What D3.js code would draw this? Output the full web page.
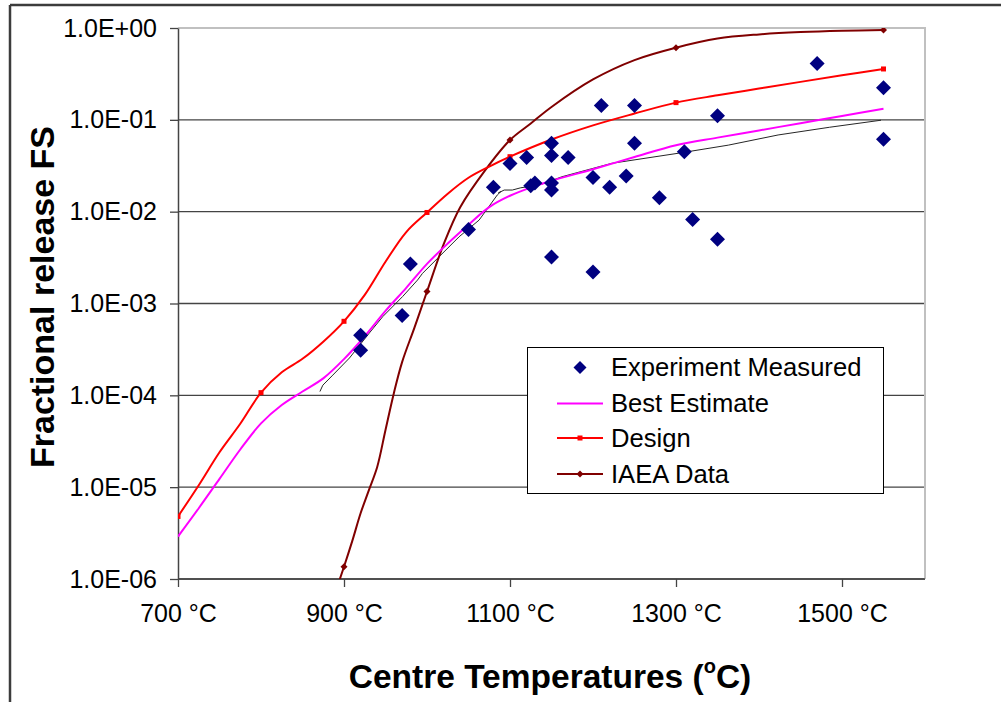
<!DOCTYPE html>
<html>
<head>
<meta charset="utf-8">
<script src="https://cdn.jsdelivr.net/npm/d3@7"></script>
<style>
  html, body { margin: 0; padding: 0; background: #fff; }
  svg { display: block; font-family: "Liberation Sans", Arial, sans-serif; }
</style>
</head>
<body>
<svg id="chart" width="1001" height="702"></svg>
<script>
// ---- Data -------------------------------------------------------------
// Measured fractional release (temperature °C, fraction)
const measuredT = [920, 920, 970, 980, 1050, 1080, 1100, 1120, 1125, 1130,
                   1150, 1150, 1150, 1150, 1150, 1170, 1200, 1200, 1210, 1220,
                   1240, 1250, 1250, 1280, 1310, 1320, 1350, 1350, 1470, 1550, 1550];
const measuredV = [4.5e-4, 3.1e-4, 7.4e-4, 2.7e-3, 6.4e-3, 1.84e-2, 3.35e-2, 3.9e-2, 1.92e-2, 2.05e-2,
                   5.55e-2, 4.1e-2, 2.05e-2, 1.72e-2, 3.2e-3, 3.9e-2, 2.35e-2, 2.2e-3, 0.143, 1.84e-2,
                   2.45e-2, 0.143, 5.55e-2, 1.42e-2, 4.5e-2, 8.2e-3, 0.111, 5.0e-3, 0.41, 0.224, 0.0614];

// Best estimate curve
const bestT = [700, 725, 750, 775, 800, 825, 850, 875, 900, 925, 950, 975, 1000, 1025,
               1050, 1075, 1100, 1125, 1150, 1200, 1250, 1300, 1350, 1400, 1450, 1500, 1550];
const bestV = [2.9e-6, 5.9e-6, 1.23e-5, 2.57e-5, 4.95e-5, 7.85e-5, 1.1e-4, 1.53e-4, 2.48e-4, 4.4e-4,
               8.3e-4, 1.48e-3, 2.7e-3, 4.5e-3, 7.2e-3, 1.12e-2, 1.49e-2, 1.83e-2, 2.17e-2, 2.9e-2,
               3.94e-2, 5.3e-2, 6.4e-2, 7.66e-2, 9.2e-2, 0.11, 0.132];

// Design curve
const designT = [700, 725, 750, 775, 800, 825, 850, 875, 900, 925, 950, 975, 1000, 1025,
                 1050, 1075, 1100, 1150, 1200, 1250, 1300, 1350, 1400, 1450, 1500, 1550];
const designV = [4.8e-6, 1.05e-5, 2.4e-5, 4.9e-5, 1.07e-4, 1.78e-4, 2.5e-4, 3.84e-4, 6.4e-4, 1.24e-3,
                 2.85e-3, 6.0e-3, 9.8e-3, 1.57e-2, 2.34e-2, 3.1e-2, 3.97e-2, 6.1e-2, 8.7e-2, 0.117,
                 0.154, 0.185, 0.219, 0.259, 0.305, 0.358];

// IAEA data curve
const iaeaT = [880, 900, 910, 920, 930, 940, 950, 960, 970, 985, 1000, 1020, 1040, 1070,
               1100, 1125, 1150, 1200, 1250, 1300, 1350, 1400, 1450, 1500, 1550];
const iaeaV = [4.0e-7, 1.36e-6, 2.6e-6, 5.2e-6, 9.3e-6, 1.66e-5, 4.2e-5, 1.05e-4, 2.3e-4, 5.5e-4,
               1.35e-3, 4.4e-3, 1.12e-2, 2.82e-2, 6.03e-2, 9.12e-2, 0.138, 0.275, 0.447, 0.61,
               0.767, 0.851, 0.902, 0.933, 0.95];

// Temperatures at which the Design and IAEA curves carry point markers
const markerT = [700, 800, 900, 1000, 1100, 1300, 1550];

// Thin unlabelled fitted trend
const fitT = [871, 874.5, 886.5, 906.6, 930.6, 946.6, 970.6, 988.6, 994.6, 1038.7, 1062.8,
              1084.7, 1088.8, 1086, 1093, 1102.8, 1112.9, 1126.8, 1138.8, 1162.5, 1222.5,
              1303, 1363, 1423, 1485, 1547];
const fitV = [1.1e-4, 1.29e-4, 1.66e-4, 2.55e-4, 4.78e-4, 7.18e-4, 1.19e-3, 1.8e-3, 2.13e-3, 5.33e-3, 8.1e-3,
              1.52e-2, 1.65e-2, 1.6e-2, 1.72e-2, 1.72e-2, 1.82e-2, 1.9e-2, 2.0e-2, 2.4e-2, 3.36e-2,
              4.33e-2, 5.3e-2, 6.84e-2, 8.3e-2, 0.099];

// Axis ticks
const xTicks = [700, 900, 1100, 1300, 1500];
const xTickLabels = ["700 °C", "900 °C", "1100 °C", "1300 °C", "1500 °C"];
const yTicks = [1e-6, 1e-5, 1e-4, 1e-3, 1e-2, 1e-1, 1];
const yTickLabels = ["1.0E-06", "1.0E-05", "1.0E-04", "1.0E-03", "1.0E-02", "1.0E-01", "1.0E+00"];

const seriesNames = ["Experiment Measured", "Best Estimate", "Design", "IAEA Data"];

// ---- Layout -----------------------------------------------------------
const svg = d3.select("#chart");
const plot = { left: 178, right: 925, top: 28, bottom: 579 };

const x = d3.scaleLinear().domain([700, 1600]).range([plot.left, plot.right]);
const y = d3.scaleLog().domain([1e-6, 1]).range([plot.bottom, plot.top]);

const colors = {
  measured: "#000080",
  best: "#ff00ff",
  design: "#ff0000",
  iaea: "#800000",
  fit: "#262626"
};

// Outer chart frame (top and left edges)
svg.append("line").attr("x1", 10).attr("y1", 5).attr("x2", 1001).attr("y2", 5)
  .attr("stroke", "#3c3c3c").attr("stroke-width", 2.5);
svg.append("line").attr("x1", 10).attr("y1", 5).attr("x2", 10).attr("y2", 702)
  .attr("stroke", "#3c3c3c").attr("stroke-width", 2.5);

// Horizontal gridlines
svg.append("g")
  .selectAll("line")
  .data(yTicks.filter(t => t < 1))
  .join("line")
  .attr("x1", plot.left).attr("x2", plot.right)
  .attr("y1", d => y(d)).attr("y2", d => y(d))
  .attr("stroke", "#444").attr("stroke-width", 1.3);

// Plot area border (top and right)
svg.append("path")
  .attr("d", `M${plot.left},${plot.top}H${plot.right}V${plot.bottom}`)
  .attr("fill", "none").attr("stroke", "#c0c0c0").attr("stroke-width", 2);

// Axes
const yAxis = d3.axisLeft(y)
  .tickValues(yTicks)
  .tickFormat((d, i) => yTickLabels[i])
  .tickSizeInner(8).tickSizeOuter(0).tickPadding(13);
const gy = svg.append("g").attr("transform", `translate(${plot.left},0)`).call(yAxis);

const xAxis = d3.axisBottom(x)
  .tickValues(xTicks)
  .tickFormat((d, i) => xTickLabels[i])
  .tickSizeInner(8).tickSizeOuter(0).tickPadding(17);
const gx = svg.append("g").attr("transform", `translate(0,${plot.bottom})`).call(xAxis);

[gx, gy].forEach(g => {
  g.select(".domain").attr("stroke", "#444").attr("stroke-width", 1.5);
  g.selectAll(".tick line").attr("stroke", "#444").attr("stroke-width", 1.3);
  g.selectAll(".tick text")
    .attr("fill", "#000")
    .style("font-family", '"Liberation Sans", Arial, sans-serif')
    .style("font-size", "25px");
});
gx.select(".domain").attr("d", `M${plot.left},0H${plot.right}`);

// Axis titles
svg.append("text")
  .attr("transform", `translate(54,297) rotate(-90)`)
  .attr("text-anchor", "middle")
  .style("font-size", "34px").style("font-weight", "bold")
  .attr("fill", "#000")
  .text("Fractional release FS");

const xTitle = svg.append("text")
  .attr("x", 550).attr("y", 688)
  .attr("text-anchor", "middle")
  .style("font-size", "33.5px").style("font-weight", "bold")
  .attr("fill", "#000");
xTitle.append("tspan").text("Centre Temperatures (");
xTitle.append("tspan").attr("dy", -15).style("font-size", "20px").text("o");
xTitle.append("tspan").attr("dy", 15).text("C)");

// ---- Series -----------------------------------------------------------
svg.append("defs").append("clipPath").attr("id", "plotClip")
  .append("rect")
  .attr("x", plot.left).attr("y", plot.top)
  .attr("width", plot.right - plot.left).attr("height", plot.bottom - plot.top);

const series = svg.append("g").attr("clip-path", "url(#plotClip)");

const toPoints = (ts, vs) => ts.map((t, i) => ({ t, v: vs[i] }));
const smooth = d3.line().x(d => x(d.t)).y(d => y(d.v)).curve(d3.curveCatmullRom.alpha(0.5));
const straight = d3.line().x(d => x(d.t)).y(d => y(d.v));

// Thin fitted trend
series.append("path")
  .datum(toPoints(fitT, fitV))
  .attr("d", straight)
  .attr("fill", "none").attr("stroke", colors.fit).attr("stroke-width", 1);

// IAEA data
series.append("path")
  .datum(toPoints(iaeaT, iaeaV))
  .attr("d", smooth)
  .attr("fill", "none").attr("stroke", colors.iaea).attr("stroke-width", 2);

// Design
series.append("path")
  .datum(toPoints(designT, designV))
  .attr("d", smooth)
  .attr("fill", "none").attr("stroke", colors.design).attr("stroke-width", 2);

// Best estimate
series.append("path")
  .datum(toPoints(bestT, bestV))
  .attr("d", smooth)
  .attr("fill", "none").attr("stroke", colors.best).attr("stroke-width", 2);

// Point markers on the Design and IAEA curves
const designMarks = toPoints(designT, designV).filter(d => markerT.includes(d.t));
const iaeaMarks = toPoints(iaeaT, iaeaV).filter(d => markerT.includes(d.t));

series.append("g").selectAll("rect")
  .data(designMarks)
  .join("rect")
  .attr("x", d => x(d.t) - 2.5).attr("y", d => y(d.v) - 2.5)
  .attr("width", 5).attr("height", 5)
  .attr("fill", colors.design);

const diamond = r => `M0,${-r}L${r},0L0,${r}L${-r},0Z`;

series.append("g").selectAll("path")
  .data(iaeaMarks)
  .join("path")
  .attr("transform", d => `translate(${x(d.t)},${y(d.v)})`)
  .attr("d", diamond(3.5))
  .attr("fill", colors.iaea);

// Measured points
svg.append("g").selectAll("path")
  .data(toPoints(measuredT, measuredV))
  .join("path")
  .attr("transform", d => `translate(${x(d.t)},${y(d.v)})`)
  .attr("d", diamond(7.5))
  .attr("fill", colors.measured);

// ---- Legend -----------------------------------------------------------
const legend = svg.append("g");
legend.append("rect")
  .attr("x", 527.5).attr("y", 347.5).attr("width", 356).attr("height", 146)
  .attr("fill", "#fff").attr("stroke", "#000").attr("stroke-width", 1);

const rowY = [367.5, 403.5, 438, 474];
const keyX0 = 557, keyX1 = 603, keyMid = 580;

legend.append("path")
  .attr("transform", `translate(${keyMid},${rowY[0]})`)
  .attr("d", diamond(6.5)).attr("fill", colors.measured);

[[1, colors.best], [2, colors.design], [3, colors.iaea]].forEach(([i, c]) => {
  legend.append("line")
    .attr("x1", keyX0).attr("x2", keyX1).attr("y1", rowY[i]).attr("y2", rowY[i])
    .attr("stroke", c).attr("stroke-width", 2);
});
legend.append("rect")
  .attr("x", keyMid - 2.5).attr("y", rowY[2] - 2.5).attr("width", 5).attr("height", 5)
  .attr("fill", colors.design);
legend.append("path")
  .attr("transform", `translate(${keyMid},${rowY[3]})`)
  .attr("d", diamond(3.5)).attr("fill", colors.iaea);

legend.selectAll("text.label")
  .data(seriesNames)
  .join("text")
  .attr("class", "label")
  .attr("x", 611)
  .attr("y", (d, i) => rowY[i] + 8.5)
  .style("font-size", "25.6px")
  .attr("fill", "#000")
  .text(d => d);
</script>
</body>
</html>
